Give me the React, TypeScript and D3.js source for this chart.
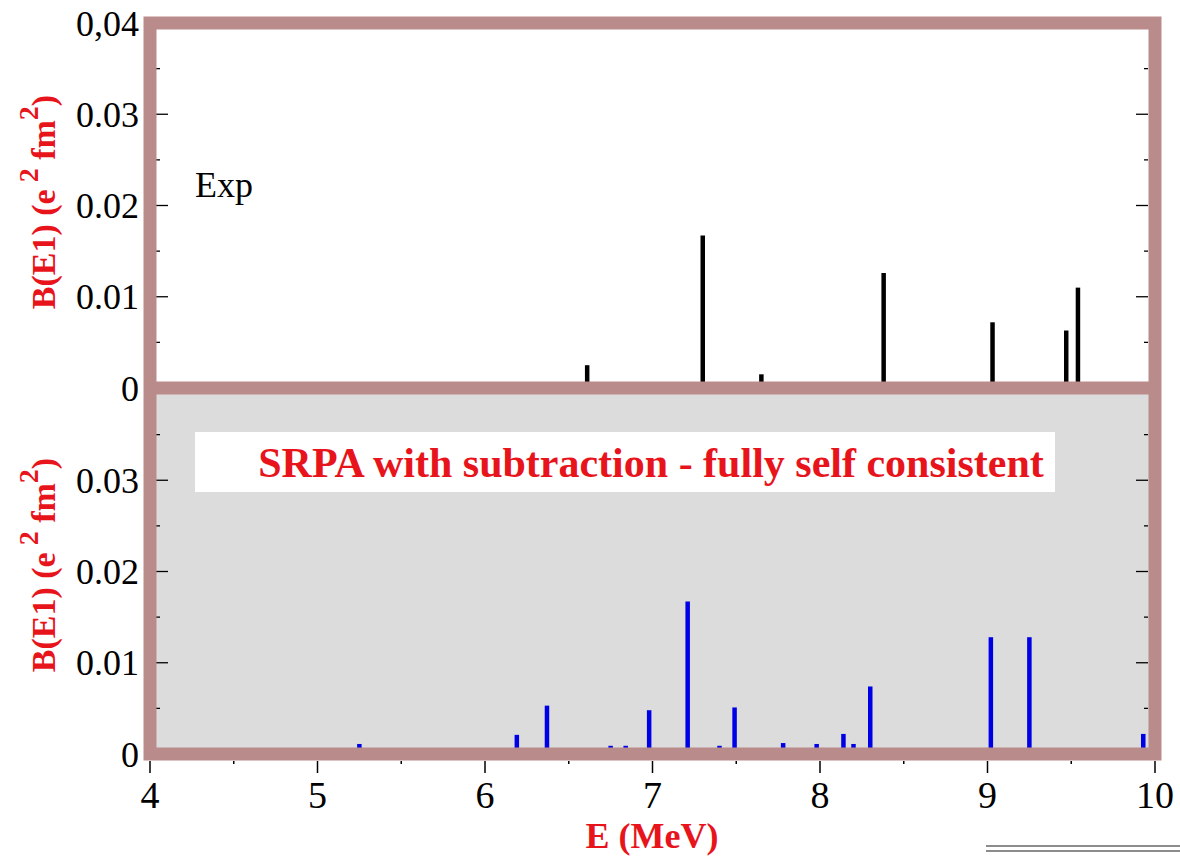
import React from "react";
import * as d3 from "d3";

// Experimental E1 strengths: energy (MeV) and B(E1) (e^2 fm^2)
const expEnergy = [6.61, 7.30, 7.65, 8.38, 9.03, 9.47, 9.54];
const expStrength = [0.0025, 0.0167, 0.0015, 0.0126, 0.0072, 0.0063, 0.0110];

// SRPA with subtraction, fully self consistent
const srpaEnergy = [5.25, 6.19, 6.37, 6.75, 6.84, 6.98, 7.21, 7.40, 7.49, 7.78, 7.98, 8.14, 8.20, 8.30, 9.02, 9.25, 9.93];
const srpaStrength = [0.0011, 0.0021, 0.0053, 0.0009, 0.0009, 0.0048, 0.0167, 0.0009, 0.0051, 0.0012, 0.0011, 0.0022, 0.0011, 0.0074, 0.0128, 0.0128, 0.0022];

const xTicks = [4, 5, 6, 7, 8, 9, 10];
const topYTicks = [0, 0.01, 0.02, 0.03, 0.04];
const topYLabels = ["0", "0.01", "0.02", "0.03", "0,04"];
const botYTicks = [0, 0.01, 0.02, 0.03];
const botYLabels = ["0", "0.01", "0.02", "0.03"];

const W = 1180;
const H = 857;
const FRAME = "#b98b8a";
const RED = "#e8141c";
const BLUE = "#0000e6";
const SERIF = "'Liberation Serif', 'Times New Roman', serif";

const x = d3.scaleLinear().domain([4, 10]).range([150, 1155]);
const yTop = d3.scaleLinear().domain([0, 0.04]).range([388, 23]);
const yBot = d3.scaleLinear().domain([0, 0.04]).range([754, 389]);

const minorY = d3.range(0.005, 0.04, 0.01);
const minorX = d3.range(4.5, 10, 1);

function YTitle({ cy }: { cy: number }) {
  return (
    <text
      transform={`translate(55,${cy}) rotate(-90)`}
      textAnchor="middle"
      fontFamily={SERIF}
      fontWeight="bold"
      fontSize={34}
      fill={RED}
    >
      B(E1) (e
      <tspan dy={-17} fontSize={28}> 2</tspan>
      <tspan dy={17}> fm</tspan>
      <tspan dy={-17} fontSize={28}>2</tspan>
      <tspan dy={17}>)</tspan>
    </text>
  );
}

function PanelTicks({ y, ticks, labels }: { y: d3.ScaleLinear<number, number>; ticks: number[]; labels: string[] }) {
  return (
    <g>
      {ticks.map((t, i) => (
        <g key={`t${i}`}>
          <line x1={156} x2={168} y1={y(t)} y2={y(t)} stroke="#000" strokeWidth={1.3} />
          <line x1={1136} x2={1148} y1={y(t)} y2={y(t)} stroke="#000" strokeWidth={1.3} />
          <text
            x={139}
            y={y(t)}
            dy="0.35em"
            textAnchor="end"
            fontFamily={SERIF}
            fontSize={36}
            fill="#000"
          >
            {labels[i]}
          </text>
        </g>
      ))}
      {minorY.map((t, i) => (
        <g key={`m${i}`}>
          <line x1={156} x2={160} y1={y(t)} y2={y(t)} stroke="#000" strokeWidth={1.3} />
          <line x1={1144} x2={1148} y1={y(t)} y2={y(t)} stroke="#000" strokeWidth={1.3} />
        </g>
      ))}
    </g>
  );
}

export default function App() {
  return (
    <svg width={W} height={H} style={{ position: "absolute", left: 0, top: 0, background: "#fff" }}>
      {/* panel backgrounds */}
      <rect x={x(4)} y={yTop(0.04)} width={x(10) - x(4)} height={yTop(0) - yTop(0.04)} fill="#ffffff" />
      <rect x={x(4)} y={yBot(0.04)} width={x(10) - x(4)} height={yBot(0) - yBot(0.04)} fill="#dcdcdc" />

      {/* label box */}
      <rect x={195} y={432} width={860} height={60} fill="#ffffff" />
      <text
        x={651}
        y={462}
        dy="0.35em"
        textAnchor="middle"
        fontFamily={SERIF}
        fontWeight="bold"
        fontSize={42}
        fill={RED}
      >
        SRPA with subtraction - fully self consistent
      </text>

      <text x={195} y={197} fontFamily={SERIF} fontSize={36} fill="#000">
        Exp
      </text>

      {/* strength bars */}
      {expEnergy.map((e, i) => (
        <line key={`e${i}`} x1={x(e)} x2={x(e)} y1={yTop(0)} y2={yTop(expStrength[i])} stroke="#000" strokeWidth={4.5} />
      ))}
      {srpaEnergy.map((e, i) => (
        <line key={`s${i}`} x1={x(e)} x2={x(e)} y1={yBot(0)} y2={yBot(srpaStrength[i])} stroke={BLUE} strokeWidth={4.5} />
      ))}

      <PanelTicks y={yTop} ticks={topYTicks} labels={topYLabels} />
      <PanelTicks y={yBot} ticks={botYTicks} labels={botYLabels} />

      {/* frame */}
      <rect x={x(4)} y={yTop(0.04)} width={x(10) - x(4)} height={yBot(0) - yTop(0.04)} fill="none" stroke={FRAME} strokeWidth={13} />
      <line x1={x(4)} x2={x(10)} y1={yTop(0)} y2={yTop(0)} stroke={FRAME} strokeWidth={13} />

      {/* x axis */}
      {xTicks.map((t) => (
        <g key={`x${t}`}>
          <line x1={x(t)} x2={x(t)} y1={761} y2={773} stroke="#000" strokeWidth={1.5} />
          <text x={x(t)} y={808} textAnchor="middle" fontFamily={SERIF} fontSize={38} fill="#000">
            {t}
          </text>
        </g>
      ))}
      {minorX.map((t, i) => (
        <line key={`mx${i}`} x1={x(t)} x2={x(t)} y1={761} y2={764} stroke="#000" strokeWidth={1.5} />
      ))}

      <text x={652} y={848} textAnchor="middle" fontFamily={SERIF} fontWeight="bold" fontSize={36} fill={RED}>
        E (MeV)
      </text>

      <YTitle cy={202} />
      <YTitle cy={565} />

      <line x1={986} x2={W} y1={846} y2={846} stroke="#666" strokeWidth={1.5} />
      <line x1={986} x2={W} y1={851} y2={851} stroke="#666" strokeWidth={1.5} />
    </svg>
  );
}
